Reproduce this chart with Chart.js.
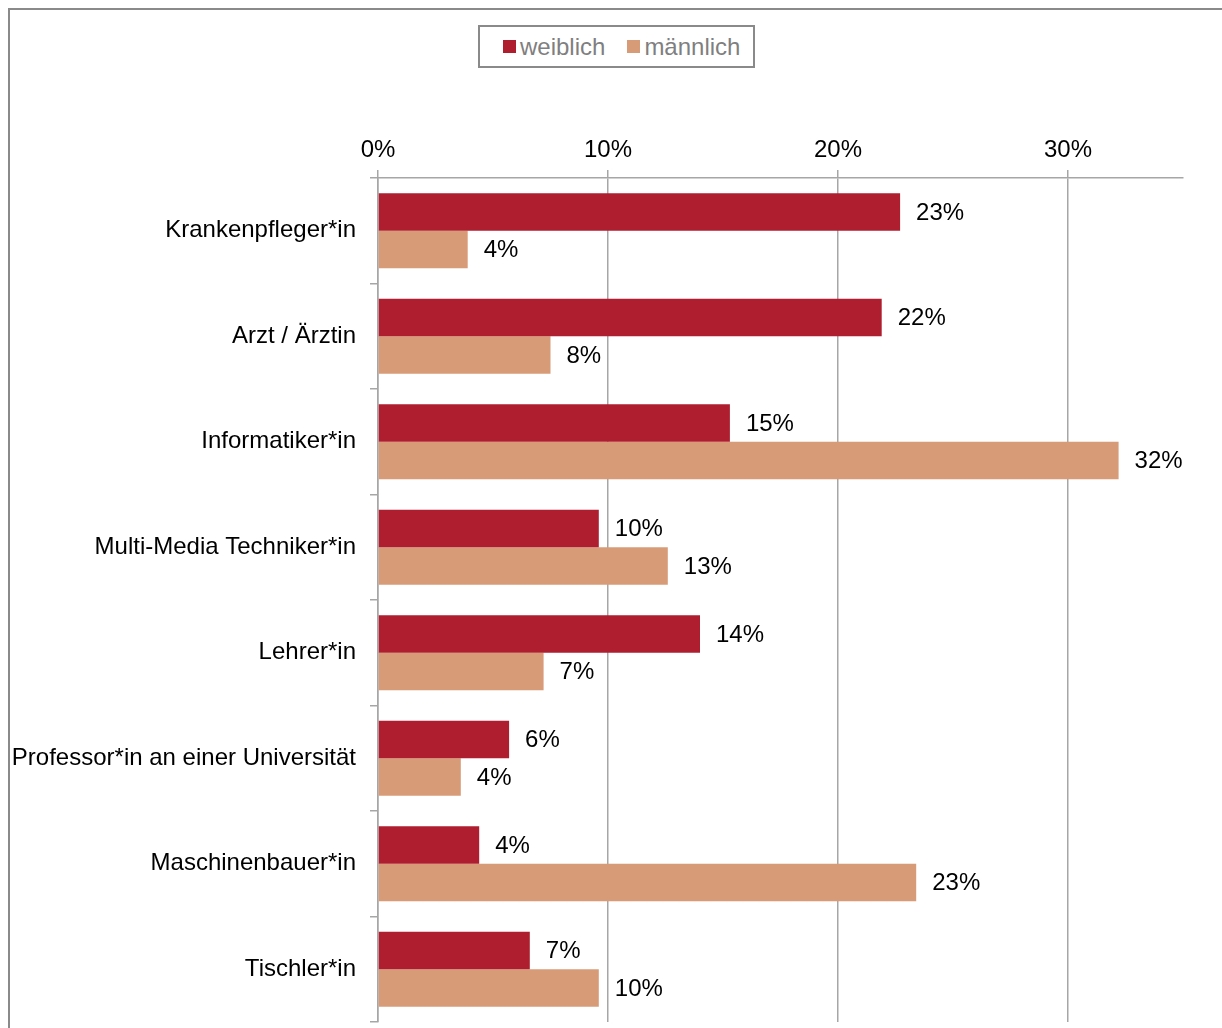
<!DOCTYPE html>
<html>
<head>
<meta charset="utf-8">
<script src="https://cdn.jsdelivr.net/npm/chart.js@4.4.1/dist/chart.umd.min.js"></script>
<style>
    html, body { margin: 0; padding: 0; background: #fff; overflow: hidden; }
    body { width: 1222px; height: 1028px; position: relative; }
    #frame {
        position: absolute; left: 8px; top: 8px; width: 1400px; height: 1200px;
        border-left: 2px solid #8a8a8a; border-top: 2px solid #8a8a8a;
    }
    #chartBox { position: absolute; left: 0; top: 0; width: 1222px; height: 1028px; }
    #legend {
        position: absolute; left: 478px; top: 25px; width: 273px; height: 39px;
        border: 2px solid #8a8a8a; background: #fff; box-sizing: content-box;
        font-family: "Liberation Sans", Arial, sans-serif; font-size: 24px; color: #7f7f7f;
        display: flex; align-items: center; justify-content: flex-start; padding-left: 23px;
        width: 250px;
    }
    #legend .item { display: flex; align-items: center; margin-right: 22px; white-space: nowrap; }
    #legend .swatch { width: 13px; height: 13px; margin-right: 4px; }
</style>
</head>
<body>
<div id="frame"></div>
<div id="chartBox"><canvas id="dynamicGraph" width="1222" height="1028"></canvas></div>
<div id="legend"></div>
<script>
    // chart data
    const categories = [
        "Krankenpfleger*in",
        "Arzt / Ärztin",
        "Informatiker*in",
        "Multi-Media Techniker*in",
        "Lehrer*in",
        "Professor*in an einer Universität",
        "Maschinenbauer*in",
        "Tischler*in"
    ];
    const weiblich = [22.7, 21.9, 15.3, 9.6, 14.0, 5.7, 4.4, 6.6];
    const maennlich = [3.9, 7.5, 32.2, 12.6, 7.2, 3.6, 23.4, 9.6];
    const seriesNames = ["weiblich", "männlich"];
    const seriesColors = ["#ae1e2e", "#d89b78"];
    const xTicks = [0, 10, 20, 30];
    const xMax = 35;

    const fontFamily = '"Liberation Sans", Arial, sans-serif';

    // value labels to the right of each bar
    const valueLabels = {
        id: "valueLabels",
        afterDatasetsDraw(chart) {
            const ctx = chart.ctx;
            ctx.save();
            ctx.font = "24px " + fontFamily;
            ctx.fillStyle = "#000";
            ctx.textAlign = "left";
            ctx.textBaseline = "middle";
            chart.data.datasets.forEach((ds, i) => {
                chart.getDatasetMeta(i).data.forEach((bar, j) => {
                    ctx.fillText(Math.round(ds.data[j]) + "%", bar.x + 16, bar.y + 1);
                });
            });
            ctx.restore();
        }
    };

    const ctx = document.getElementById("dynamicGraph").getContext("2d");
    const chartInstance = new Chart(ctx, {
        type: "bar",
        data: {
            labels: categories,
            datasets: [
                {
                    label: seriesNames[0],
                    data: weiblich,
                    backgroundColor: seriesColors[0],
                    categoryPercentage: 0.71,
                    barPercentage: 1.0
                },
                {
                    label: seriesNames[1],
                    data: maennlich,
                    backgroundColor: seriesColors[1],
                    categoryPercentage: 0.71,
                    barPercentage: 1.0
                }
            ]
        },
        options: {
            indexAxis: "y",
            responsive: false,
            animation: false,
            layout: {
                padding: { top: 0, right: 39, bottom: 6, left: 0 }
            },
            plugins: {
                legend: { display: false },
                tooltip: { enabled: false }
            },
            scales: {
                x: {
                    position: "top",
                    min: 0,
                    max: xMax,
                    afterBuildTicks: scale => {
                        scale.ticks = xTicks.map(v => ({ value: v }));
                    },
                    afterFit: scale => { scale.height = 178; },
                    grid: {
                        color: "#a6a6a6",
                        lineWidth: 1.5,
                        tickLength: 8
                    },
                    border: { color: "#a6a6a6", width: 1.5 },
                    ticks: {
                        color: "#000",
                        padding: 5,
                        font: { family: fontFamily, size: 24 },
                        callback: v => v + "%"
                    }
                },
                y: {
                    afterFit: scale => {
                        scale.width = 378;
                        scale.paddingTop = 0;
                        scale.paddingBottom = 0;
                    },
                    grid: {
                        offset: true,
                        drawOnChartArea: false,
                        color: "#a6a6a6",
                        lineWidth: 1.5,
                        tickLength: 8
                    },
                    border: { color: "#a6a6a6", width: 1.5 },
                    ticks: {
                        color: "#000",
                        padding: 14,
                        font: { family: fontFamily, size: 24 }
                    }
                }
            }
        },
        plugins: [valueLabels]
    });

    // legend built from the chart's datasets
    const legendEl = document.getElementById("legend");
    chartInstance.data.datasets.forEach(ds => {
        const item = document.createElement("div");
        item.className = "item";
        const sw = document.createElement("span");
        sw.className = "swatch";
        sw.style.background = ds.backgroundColor;
        const txt = document.createElement("span");
        txt.textContent = ds.label;
        item.appendChild(sw);
        item.appendChild(txt);
        legendEl.appendChild(item);
    });
</script>
</body>
</html>
